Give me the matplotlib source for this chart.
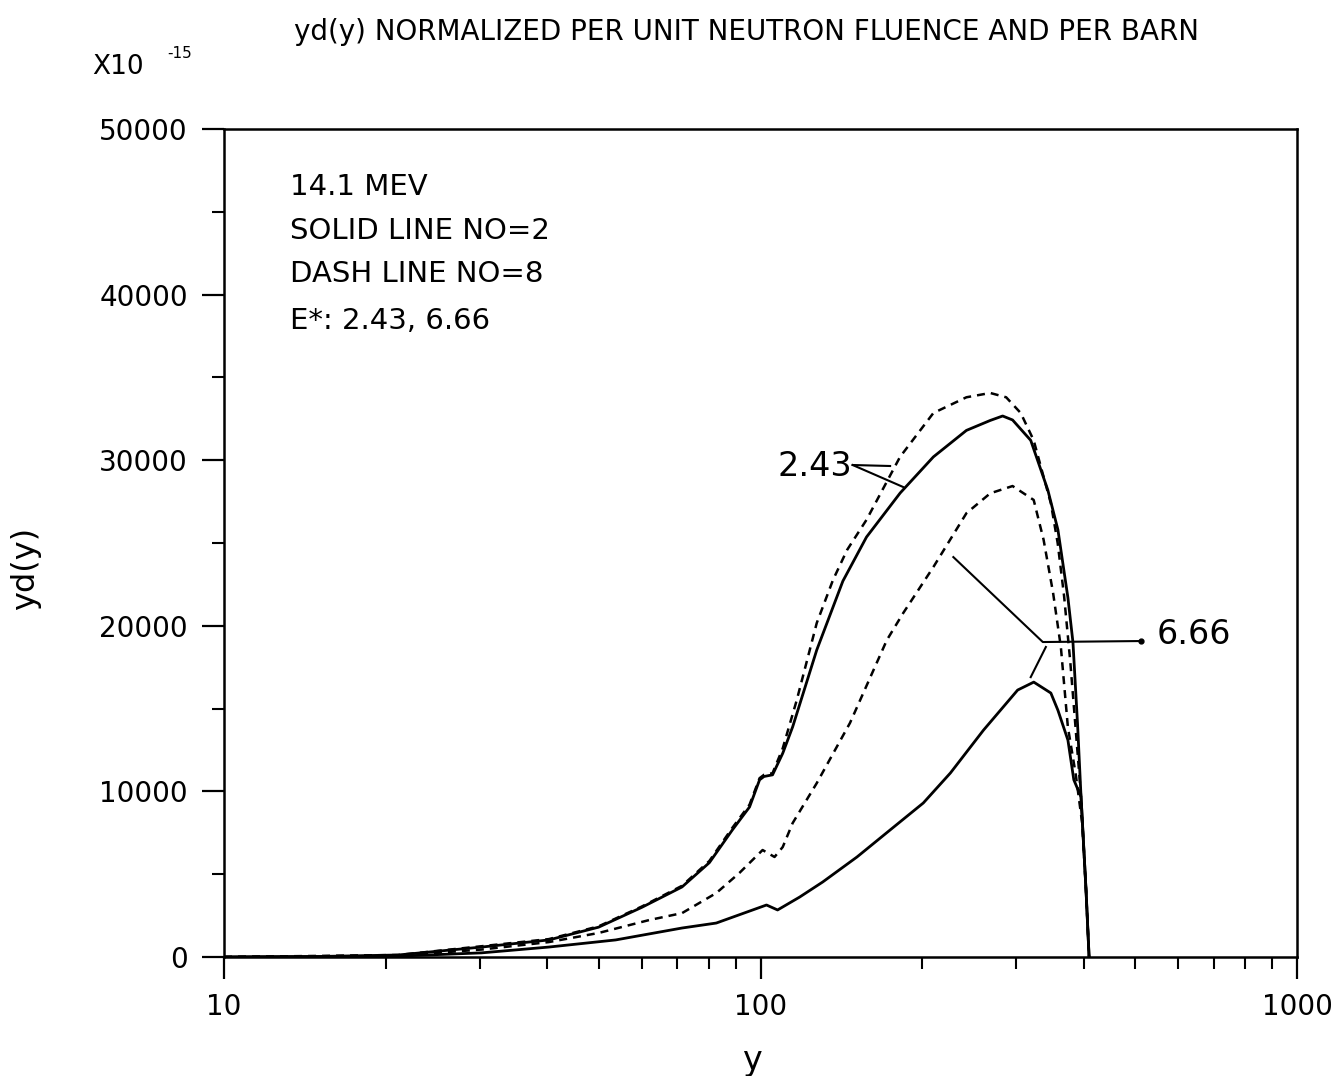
import matplotlib
matplotlib.use("Agg")
import matplotlib.pyplot as plt
from matplotlib.ticker import LogLocator, NullFormatter

# digitised curves: lineal energy y and yd(y) (units of 1e-15)
# solid line NO=2, E* = 2.43
y_s243 = [10, 15, 21.1, 30.2, 40.3, 49.9, 60.1, 71.4, 80.3, 88.6, 95.4, 99.6, 101.5, 105.3, 110,
          114.8, 127.3, 142.4, 157.6, 182.1, 210, 242, 268, 282.7, 295, 318.9, 343.2, 358.4, 374.1,
          382.3, 390, 395.8, 404.4, 409.7]
yd_s243 = [0, 30, 120, 600, 1030, 1800, 3000, 4230, 5700, 7670, 9060, 10700, 10900, 11000, 12300,
           13900, 18540, 22700, 25360, 28020, 30200, 31800, 32400, 32670, 32430, 31200, 28200, 25800,
           21700, 19000, 14000, 9660, 4000, 0]

# dash line NO=8, E* = 2.43
y_d243 = [10, 21.1, 30.2, 40.3, 49.9, 60.1, 71.4, 80.3, 88.6, 95.4, 99.6, 101.5, 105.3, 110, 116.8,
          127.3, 136.5, 145, 157.6, 182, 210, 242, 268, 287, 305.5, 323, 337, 347.7, 358, 368, 378,
          395.8, 404.4, 409.7]
yd_d243 = [0, 120, 650, 1080, 1850, 3050, 4300, 5800, 7800, 9200, 10800, 11000, 11100, 12600, 15500,
           20170, 22770, 24580, 26400, 30200, 32850, 33800, 34060, 33800, 32850, 31200, 29000, 27400,
           25000, 21800, 17800, 9700, 4000, 0]

# dash line NO=8, E* = 6.66
y_d666 = [10, 21.1, 30.2, 40.3, 49.9, 62.0, 71.4, 82.7, 91.3, 100.9, 106.2, 110, 114.8, 127.3, 146.8,
          172, 184.5, 210, 242, 268, 295, 323, 337, 351, 363, 374, 387, 398, 404.4, 409.7]
yd_d666 = [0, 80, 450, 900, 1450, 2230, 2650, 3860, 5070, 6460, 6040, 6640, 8090, 10500, 14130,
           19140, 20770, 23550, 26800, 28000, 28440, 27600, 25200, 22000, 18700, 13900, 11000, 8000,
           4000, 0]

# solid line NO=2, E* = 6.66
y_s666 = [10, 21.1, 30.2, 40.3, 53.7, 71.4, 82.7, 102.6, 107.6, 118.3, 130.6, 151.3, 174.4, 201.1,
          225.9, 260.4, 301.5, 323.1, 347.7, 358.4, 374.1, 383.7, 395.8, 404.4, 409.7]
yd_s666 = [0, 50, 250, 600, 1030, 1750, 2050, 3140, 2840, 3620, 4530, 6040, 7670, 9300,
           11110, 13700, 16120, 16600, 15940, 14900, 13100, 10700, 9660, 4000, 0]

# leader lines for the curve labels
lead_243_x = [[148.5, 174.4], [148.5, 184.5]]
lead_243_y = [[29710, 29650], [29710, 28380]]
lead_666_x = [[512.7, 335.9, 228.8], [340.3, 318.9]]
lead_666_y = [[19080, 19020, 24150], [18720, 16900]]

x_ticks = [10, 100, 1000]
x_tick_labels = ["10", "100", "1000"]
y_ticks = [0, 10000, 20000, 30000, 40000, 50000]
y_tick_labels = ["0", "10000", "20000", "30000", "40000", "50000"]
y_minor = [5000, 15000, 25000, 35000, 45000]

info_lines = ["14.1 MEV", "SOLID LINE NO=2", "DASH LINE NO=8", "E*: 2.43, 6.66"]

plt.rcParams["font.family"] = ["DejaVu Sans"]

fig = plt.figure(figsize=(13.36, 10.76), dpi=100, facecolor="white")
ax = fig.add_axes([0.1677, 0.1106, 0.8031, 0.7695])

dash = (0, (3.2, 2.4))
ax.plot(y_d243, yd_d243, color="black", lw=1.8, linestyle=dash)
ax.plot(y_s243, yd_s243, color="black", lw=2.0)
ax.plot(y_d666, yd_d666, color="black", lw=1.8, linestyle=dash)
ax.plot(y_s666, yd_s666, color="black", lw=2.0)

for xs, ys in zip(lead_243_x, lead_243_y):
    ax.plot(xs, ys, color="black", lw=1.5)
for xs, ys in zip(lead_666_x, lead_666_y):
    ax.plot(xs, ys, color="black", lw=1.5)
ax.plot(lead_666_x[0][0], lead_666_y[0][0], "o", color="black", ms=3.5)

ax.text(148.1, 29650, "2.43", fontsize=24, ha="right", va="center")
ax.text(546.8, 19500, "6.66", fontsize=24, ha="left", va="center")

ax.set_xscale("log")
ax.set_xlim(10, 1000)
ax.set_ylim(0, 50000)
ax.set_xticks(x_ticks)
ax.set_xticklabels(x_tick_labels)
ax.xaxis.set_minor_locator(LogLocator(base=10, subs=range(2, 10)))
ax.xaxis.set_minor_formatter(NullFormatter())
ax.set_yticks(y_ticks)
ax.set_yticklabels(y_tick_labels)
ax.set_yticks(y_minor, minor=True)
ax.tick_params(which="major", direction="out", length=16, width=1.6, labelsize=20, pad=10)
ax.tick_params(which="minor", direction="out", length=8.5, width=1.5)
for sp in ax.spines.values():
    sp.set_linewidth(1.8)

y_pos = [0.930, 0.877, 0.825, 0.768]
for txt, yp in zip(info_lines, y_pos):
    ax.text(0.0615, yp, txt, transform=ax.transAxes, fontsize=21, ha="left", va="center")

fig.text(0.559, 0.970, "yd(y) NORMALIZED PER UNIT NEUTRON FLUENCE AND PER BARN",
         fontsize=20, ha="center", va="center")
fig.text(0.069, 0.938, "X10", fontsize=19, ha="left", va="center")
fig.text(0.125, 0.950, "-15", fontsize=11, ha="left", va="center")
fig.text(0.019, 0.472, "yd(y)", fontsize=23, rotation=90, ha="center", va="center")
fig.text(0.563, 0.014, "y", fontsize=24, ha="center", va="center")

fig.savefig("out.png", dpi=100, facecolor="white")
